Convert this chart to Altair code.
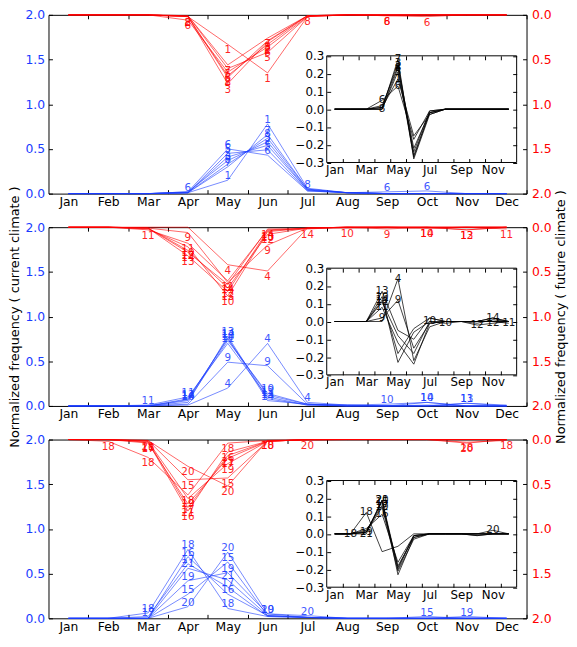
import altair as alt
import pandas as pd

MONTHS = ["Jan", "Feb", "Mar", "Apr", "May", "Jun", "Jul", "Aug", "Sep", "Oct", "Nov", "Dec"]
MONTH_NUM = list(range(1, 13))
MAIN_TICKS = [m + 0.5 for m in MONTH_NUM]          # 1.5 .. 12.5
INSET_TICKS = [m + 0.5 for m in MONTH_NUM[:-1]]    # 1.5 .. 11.5
Y_TICKS = [0.0, 0.5, 1.0, 1.5, 2.0]
INSET_Y_TICKS = [-0.3, -0.2, -0.1, 0.0, 0.1, 0.2, 0.3]
XLIM = [0.5, 12.5]
YLIM = [0.0, 2.0]
INSET_YLIM = [-0.3, 0.3]

# ---------------- panel 1 ----------------
P1_CURRENT = {
    "1": [0, 0, 0, 0.01, 0.15, 0.78, 0.06, 0.01, 0, 0, 0, 0],
    "7": [0, 0, 0, 0.01, 0.30, 0.66, 0.05, 0.01, 0, 0, 0, 0],
    "8": [0, 0, 0, 0.01, 0.33, 0.62, 0.05, 0.01, 0, 0, 0, 0],
    "3": [0, 0, 0, 0.02, 0.37, 0.58, 0.04, 0.01, 0, 0, 0, 0],
    "2": [0, 0, 0, 0.01, 0.41, 0.54, 0.04, 0.01, 0, 0, 0, 0],
    "5": [0, 0, 0, 0.01, 0.45, 0.49, 0.03, 0.01, 0, 0, 0, 0],
    "6": [0, 0, 0, 0.02, 0.50, 0.43, 0.03, 0.01, 0.02, 0.03, 0, 0],
}
P1_FUTURE = {
    "1": [0, 0, 0, 0.02, 0.33, 0.65, 0.02, 0, 0, 0, 0, 0],
    "7": [0, 0, 0, 0.01, 0.56, 0.26, 0.01, 0, 0, 0, 0, 0],
    "8": [0, 0, 0, 0.02, 0.70, 0.29, 0.01, 0, 0.01, 0, 0, 0],
    "3": [0, 0, 0, 0.02, 0.77, 0.30, 0.01, 0, 0, 0, 0, 0],
    "2": [0, 0, 0, 0.02, 0.68, 0.33, 0.01, 0, 0, 0, 0, 0],
    "5": [0, 0, 0, 0.01, 0.60, 0.42, 0.02, 0, 0, 0, 0, 0],
    "6": [0, 0, 0, 0.06, 0.64, 0.36, 0.02, 0, 0.01, 0.02, 0, 0],
}
P1_DIFF = {
    "1": [0, 0, 0, 0.01, 0.17, -0.15, -0.03, 0, 0, 0, 0, 0],
    "7": [0, 0, 0, 0.00, 0.28, -0.28, -0.03, 0, 0, 0, 0, 0],
    "8": [0, 0, 0, 0.00, 0.23, -0.27, -0.02, 0, 0, 0, 0, 0],
    "3": [0, 0, 0, 0.01, 0.26, -0.26, -0.02, 0, 0, 0, 0, 0],
    "2": [0, 0, 0, 0.02, 0.24, -0.22, -0.02, 0, 0, 0, 0, 0],
    "5": [0, 0, 0, 0.00, 0.21, -0.24, -0.01, 0, 0, 0, 0, 0],
    "6": [0, 0, 0, 0.05, 0.13, -0.17, -0.01, 0, 0, 0, 0, 0],
}
P1_CURRENT_LABELS = {"1": [5, 6], "7": [5, 6], "8": [5, 6, 7], "3": [5, 6], "2": [5, 6], "5": [5, 6], "6": [4, 5, 6, 9, 10]}
P1_FUTURE_LABELS = {"1": [5, 6], "7": [5, 6], "8": [4, 5, 6, 7, 9], "3": [5, 6], "2": [4, 5, 6], "5": [5, 6], "6": [4, 5, 6, 9, 10]}
P1_DIFF_LABELS = {"1": [5], "7": [5], "8": [4, 5], "3": [5], "2": [5], "5": [5], "6": [4, 5]}

# ---------------- panel 2 ----------------
P2_CURRENT = {
    "4": [0, 0, 0, 0.01, 0.20, 0.70, 0.04, 0.01, 0, 0.01, 0, 0],
    "9": [0, 0, 0, 0.02, 0.49, 0.45, 0.02, 0.01, 0, 0, 0, 0],
    "10": [0, 0, 0, 0.06, 0.73, 0.14, 0.02, 0.01, 0.02, 0.04, 0, 0],
    "11": [0, 0, 0.01, 0.10, 0.70, 0.10, 0.01, 0, 0, 0, 0.03, 0.01],
    "12": [0, 0, 0, 0.08, 0.75, 0.12, 0.02, 0, 0, 0, 0, 0],
    "13": [0, 0, 0, 0.04, 0.78, 0.08, 0.01, 0, 0, 0, 0.03, 0],
    "14": [0, 0, 0, 0.07, 0.76, 0.06, 0.02, 0, 0, 0.04, 0, 0],
}
P2_FUTURE = {
    "4": [0, 0, 0, 0.00, 0.42, 0.49, 0.01, 0, 0, 0, 0, 0],
    "9": [0, 0, 0.01, 0.06, 0.62, 0.20, 0.01, 0, 0.02, 0, 0, 0],
    "10": [0, 0, 0.02, 0.22, 0.77, 0.05, 0.01, 0.01, 0, 0.01, 0, 0],
    "11": [0, 0, 0.03, 0.18, 0.60, 0.03, 0.01, 0, 0, 0, 0, 0.02],
    "12": [0, 0, 0.01, 0.26, 0.68, 0.08, 0.01, 0, 0, 0, 0.03, 0],
    "13": [0, 0, 0.01, 0.32, 0.72, 0.04, 0.01, 0, 0, 0, 0.03, 0],
    "14": [0, 0, 0.01, 0.28, 0.64, 0.02, 0.02, 0, 0, 0.01, 0, 0],
}
P2_DIFF = {
    "4": [0, 0, 0, 0.00, 0.24, -0.22, -0.03, 0, 0, 0, 0, 0],
    "9": [0, 0, 0, 0.02, 0.12, -0.15, -0.01, 0, 0, 0, 0, 0],
    "10": [0, 0, 0, 0.14, -0.23, -0.06, 0.00, -0.01, 0, -0.01, 0.01, 0],
    "11": [0, 0, 0, 0.08, -0.12, -0.24, -0.01, 0, 0, 0, 0.00, -0.01],
    "12": [0, 0, 0, 0.11, -0.08, -0.18, 0.00, 0, 0, -0.02, -0.01, 0],
    "13": [0, 0, 0, 0.17, -0.05, -0.10, 0.02, 0, 0, 0, 0.02, 0],
    "14": [0, 0, 0, 0.12, -0.18, -0.04, 0.02, 0, 0, 0.00, 0.02, 0],
}
P2_CURRENT_LABELS = {"4": [5, 6, 7], "9": [5, 6], "10": [4, 5, 6, 9, 10], "11": [3, 4, 5, 6, 11],
                     "12": [4, 5, 6], "13": [5, 6, 11], "14": [4, 5, 6, 10]}
P2_FUTURE_LABELS = {"4": [5, 6], "9": [4, 5, 6, 9], "10": [4, 5, 6, 8, 10], "11": [3, 4, 5, 12],
                    "12": [4, 5, 6, 11], "13": [4, 5, 6, 11], "14": [4, 5, 6, 7, 10]}
P2_DIFF_LABELS = {"4": [5], "9": [4, 5], "10": [4, 7, 8], "11": [4, 12], "12": [4, 10, 11],
                  "13": [4], "14": [4, 11]}

# ---------------- panel 3 ----------------
P3_CURRENT = {
    "15": [0, 0, 0, 0.27, 0.63, 0.03, 0.01, 0, 0, 0.02, 0, 0],
    "16": [0, 0, 0, 0.69, 0.27, 0.03, 0.01, 0, 0, 0, 0, 0],
    "17": [0, 0, 0.02, 0.61, 0.35, 0.02, 0.01, 0, 0, 0, 0, 0],
    "18": [0, 0, 0.06, 0.77, 0.11, 0.02, 0.01, 0, 0, 0, 0, 0],
    "19": [0, 0, 0, 0.42, 0.51, 0.05, 0.01, 0, 0, 0, 0.02, 0],
    "20": [0, 0, 0, 0.13, 0.74, 0.05, 0.03, 0, 0, 0, 0, 0],
    "21": [0, 0, 0, 0.56, 0.43, 0.03, 0.01, 0, 0, 0, 0, 0],
}
P3_FUTURE = {
    "15": [0, 0, 0.01, 0.45, 0.43, 0.02, 0, 0, 0, 0, 0, 0],
    "16": [0, 0, 0.03, 0.80, 0.14, 0.02, 0, 0, 0, 0, 0, 0],
    "17": [0, 0, 0.04, 0.72, 0.21, 0.02, 0, 0, 0, 0, 0, 0],
    "18": [0, 0.02, 0.20, 0.62, 0.04, 0.01, 0, 0, 0, 0, 0.03, 0.01],
    "19": [0, 0, 0.02, 0.66, 0.27, 0.02, 0, 0, 0, 0, 0, 0],
    "20": [0, 0, 0.01, 0.30, 0.52, 0.01, 0.01, 0, 0, 0, 0.04, 0],
    "21": [0, 0, 0.02, 0.76, 0.18, 0.02, 0, 0, 0, 0, 0, 0],
}
P3_DIFF = {
    "15": [0, 0, 0.01, 0.18, -0.20, -0.01, 0, 0, 0, -0.01, 0, 0],
    "16": [0, 0, 0.03, 0.11, -0.16, -0.01, 0, 0, 0, 0, 0, 0],
    "17": [0, 0, 0.02, 0.16, -0.18, -0.02, 0, 0, 0, 0, 0, 0],
    "18": [0, 0, 0.12, -0.10, -0.07, 0.00, 0, 0, 0, 0, 0, 0],
    "19": [0, 0, 0.01, 0.15, -0.21, -0.03, 0, 0, 0, -0.01, 0, 0],
    "20": [0, 0, 0.01, 0.19, -0.23, -0.02, 0, 0, 0, 0, 0.02, 0],
    "21": [0, 0, 0.00, 0.19, -0.19, -0.01, 0, 0, 0, 0, 0, 0],
}
P3_CURRENT_LABELS = {"15": [4, 5, 10], "16": [4, 5], "17": [3, 4, 5], "18": [3, 4, 5],
                     "19": [4, 5, 6, 11], "20": [4, 5, 6, 7], "21": [4, 5]}
P3_FUTURE_LABELS = {"15": [4, 5], "16": [3, 4, 5], "17": [3, 4, 5], "18": [2, 3, 4, 5, 6, 11, 12],
                    "19": [4, 5], "20": [4, 5, 6, 7, 11], "21": [3, 4, 5]}
P3_DIFF_LABELS = {"15": [4], "16": [4], "17": [4], "18": [2, 3], "19": [3, 4], "20": [4, 11], "21": [3, 4]}

# ---------------- styling ----------------
W, H = 484, 181
IX = [281.7, 474.0]
IY = [149.5, 41.5]
BLUE = "#1a3cff"
RED = "#ff0000"
FONT = "DejaVu Sans"

MONTH_EXPR = "[" + ",".join(f"'{m}'" for m in MONTHS) + "][floor(datum.value) - 1]"
INSET_EXPR = "[" + ",".join((f"'{m}'" if i % 2 == 0 else "''") for i, m in enumerate(MONTHS)) + "][floor(datum.value) - 1]"


def long_df(d):
    rows = []
    for s, vals in d.items():
        for m, v in zip(MONTH_NUM, vals):
            rows.append({"series": s, "month": m, "value": v})
    return pd.DataFrame(rows)


def label_df(d, labels):
    rows = []
    for s, ms in labels.items():
        for m in ms:
            rows.append({"series": s, "month": m, "value": d[s][m - 1]})
    return pd.DataFrame(rows)


def ax(**kw):
    d = dict(grid=False, domain=False, tickSize=4, tickColor="black", tickWidth=1,
             labelFont=FONT, labelColor="black", labelFontSize=12.5, title=None)
    d.update(kw)
    return alt.Axis(**d)


def panel(cur, fut, diff, cur_lab, fut_lab, diff_lab, titles):
    xs = alt.Scale(domain=XLIM, nice=False, zero=False)
    ys = alt.Scale(domain=YLIM, nice=False, zero=False)
    yr = alt.Scale(domain=YLIM, nice=False, zero=False, reverse=True)
    xi = alt.Scale(domain=XLIM, range=IX, nice=False, zero=False)
    yi = alt.Scale(domain=INSET_YLIM, range=IY, nice=False, zero=False)

    left_kw = dict(orient="left", values=Y_TICKS, format=".1f", labelColor=BLUE,
                   offset=-4, labelPadding=4)
    right_kw = dict(orient="right", values=Y_TICKS, format=".1f", labelColor=RED,
                    offset=-4, labelPadding=5)
    if titles:
        left_kw.update(title="Normalized frequency ( current climate )", titleColor="black",
                       titleFont=FONT, titleFontSize=13, titleFontWeight="normal", titlePadding=3)
        right_kw.update(title="Normalized frequency ( future climate )", titleColor="black",
                        titleFont=FONT, titleFontSize=13, titleFontWeight="normal", titlePadding=4,
                        titleAngle=270, titleBaseline="top")

    bottom = ax(orient="bottom", values=MAIN_TICKS, labelExpr=MONTH_EXPR, labelOffset=-W / 24,
                offset=-4, labelPadding=2, labelFlush=False, labelOverlap=False)
    top = ax(orient="top", values=MAIN_TICKS, labels=False, offset=-4)

    blue_lines = alt.Chart(long_df(cur)).mark_line(color=BLUE, strokeWidth=1, opacity=0.6).encode(
        x=alt.X("month:Q", scale=xs, axis=bottom),
        y=alt.Y("value:Q", scale=ys, axis=ax(**left_kw)),
        detail="series:N",
    )
    blue_text = alt.Chart(label_df(cur, cur_lab)).mark_text(
        color=BLUE, fontSize=10.5, font=FONT, baseline="alphabetic", dy=-1, opacity=0.85
    ).encode(
        x=alt.X("month:Q", scale=xs, axis=None),
        y=alt.Y("value:Q", scale=ys, axis=None),
        text="series:N",
    )
    red_lines = alt.Chart(long_df(fut)).mark_line(color=RED, strokeWidth=1, opacity=0.6).encode(
        x=alt.X("month:Q", scale=xs, axis=top),
        y=alt.Y("value:Q", scale=yr, axis=ax(**right_kw)),
        detail="series:N",
    )
    red_text = alt.Chart(label_df(fut, fut_lab)).mark_text(
        color=RED, fontSize=10.5, font=FONT, baseline="top", dy=1, opacity=0.85
    ).encode(
        x=alt.X("month:Q", scale=xs, axis=None),
        y=alt.Y("value:Q", scale=yr, axis=None),
        text="series:N",
    )

    frame_df = pd.DataFrame({"x0": [XLIM[0]], "x1": [XLIM[1]], "y0": [INSET_YLIM[0]], "y1": [INSET_YLIM[1]]})
    inset_frame = alt.Chart(frame_df).mark_rect(fill="white", stroke="black", strokeWidth=1).encode(
        x=alt.X("x0:Q", scale=xi,
                axis=ax(orient="bottom", values=INSET_TICKS, labelExpr=INSET_EXPR,
                        labelOffset=-(IX[1] - IX[0]) / 24, offset=-(H - IY[0]) - 4,
                        labelPadding=2, labelFontSize=12, labelFlush=False, labelOverlap=False,
                        zindex=1)),
        x2="x1:Q",
        y=alt.Y("y0:Q", scale=yi,
                axis=ax(orient="left", values=INSET_Y_TICKS, format=".1f", offset=-IX[0] - 4,
                        labelPadding=3, labelFontSize=12, zindex=1)),
        y2="y1:Q",
    )
    inset_lines = alt.Chart(long_df(diff)).mark_line(color="black", strokeWidth=1, opacity=0.75).encode(
        x=alt.X("month:Q", scale=xi,
                axis=ax(orient="top", values=INSET_TICKS, labels=False, offset=-IY[1] - 4, zindex=1)),
        y=alt.Y("value:Q", scale=yi,
                axis=ax(orient="right", values=INSET_Y_TICKS, labels=False,
                        offset=-(W - IX[1]) - 4, zindex=1)),
        detail="series:N",
    )
    inset_text = alt.Chart(label_df(diff, diff_lab)).mark_text(
        color="black", fontSize=10.5, font=FONT, baseline="middle", opacity=0.9
    ).encode(
        x=alt.X("month:Q", scale=xi, axis=None),
        y=alt.Y("value:Q", scale=yi, axis=None),
        text="series:N",
    )

    return alt.layer(
        blue_lines, blue_text, red_lines, red_text, inset_frame, inset_lines, inset_text
    ).properties(width=W, height=H).resolve_scale(x="independent", y="independent").resolve_axis(
        x="independent", y="independent")


p1 = panel(P1_CURRENT, P1_FUTURE, P1_DIFF, P1_CURRENT_LABELS, P1_FUTURE_LABELS, P1_DIFF_LABELS, False)
p2 = panel(P2_CURRENT, P2_FUTURE, P2_DIFF, P2_CURRENT_LABELS, P2_FUTURE_LABELS, P2_DIFF_LABELS, True)
p3 = panel(P3_CURRENT, P3_FUTURE, P3_DIFF, P3_CURRENT_LABELS, P3_FUTURE_LABELS, P3_DIFF_LABELS, False)

chart = alt.vconcat(p1, p2, p3, spacing=34, bounds="flush").properties(
    padding={"left": 0, "right": 0, "top": -4, "bottom": 0}, background="white"
).configure_view(stroke="black", strokeWidth=1).configure_text(font=FONT)

chart.save("out.html", embed_options={"renderer": "svg", "actions": False})
